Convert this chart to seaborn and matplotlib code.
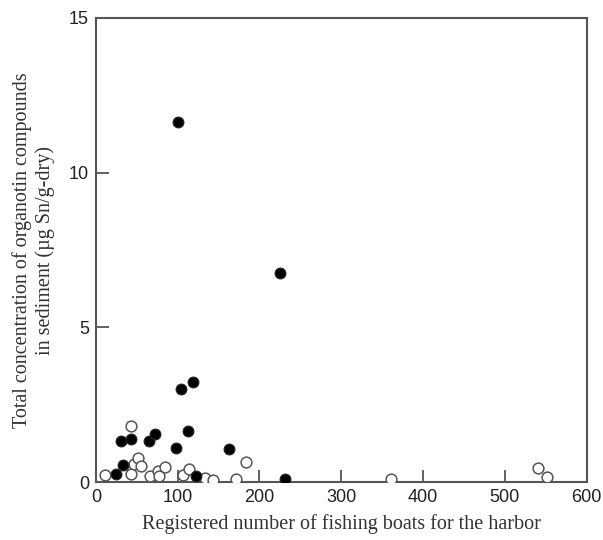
import pandas as pd
import matplotlib.pyplot as plt
import seaborn as sns

# filled circles
filled_x = [100, 225, 104, 119, 31, 43, 65, 72, 113, 98, 163, 33, 25, 123, 231]
filled_y = [11.65, 6.75, 3.0, 3.24, 1.34, 1.41, 1.34, 1.57, 1.66, 1.11, 1.08, 0.55, 0.28, 0.19, 0.09]

# open circles
open_x = [43, 11, 43, 47, 51, 55, 66, 76, 77, 84, 107, 114, 134, 143, 171, 184, 361, 540, 551]
open_y = [1.82, 0.23, 0.26, 0.60, 0.79, 0.53, 0.19, 0.37, 0.19, 0.49, 0.23, 0.42, 0.15, 0.06, 0.09, 0.66, 0.09, 0.47, 0.17]

df = pd.concat([
    pd.DataFrame({'boats': filled_x, 'conc': filled_y, 'kind': 'filled'}),
    pd.DataFrame({'boats': open_x, 'conc': open_y, 'kind': 'open'}),
])

sns.set_style('white')
fig = plt.figure(figsize=(6.03, 5.4), dpi=100)
ax = fig.add_axes([0.159, 0.107, 0.814, 0.86])

sns.scatterplot(data=df[df['kind'] == 'open'], x='boats', y='conc', ax=ax,
                marker='o', s=60, facecolor='white', edgecolor='#555555', linewidth=1.1,
                legend=False, zorder=3)
sns.scatterplot(data=df[df['kind'] == 'filled'], x='boats', y='conc', ax=ax,
                marker='o', s=60, color='black', edgecolor='#222222', linewidth=0.8,
                legend=False, zorder=4)

ax.set_xlim(0, 600)
ax.set_ylim(0, 15)
ax.set_xticks(range(0, 601, 100))
ax.set_yticks([0, 5, 10, 15])
ax.tick_params(bottom=True, left=True, direction='in', length=9, width=1.3, color='#555555',
               labelsize=13, labelcolor='#222222', pad=5)
for lab in ax.get_xticklabels() + ax.get_yticklabels():
    lab.set_family('Liberation Sans')

for sp in ax.spines.values():
    sp.set_color('#555555')
    sp.set_linewidth(1.5)

ax.set_xlabel('Registered number of fishing boats for the harbor',
              family='Liberation Serif', fontsize=14.5, color='#333333', labelpad=6)
ax.set_ylabel('Total concentration of organotin compounds\nin sediment (\u00b5g Sn/g-dry)',
              family='Liberation Serif', fontsize=14.5, color='#333333', labelpad=10,
              linespacing=1.25)

fig.savefig('out.png', dpi=100)
